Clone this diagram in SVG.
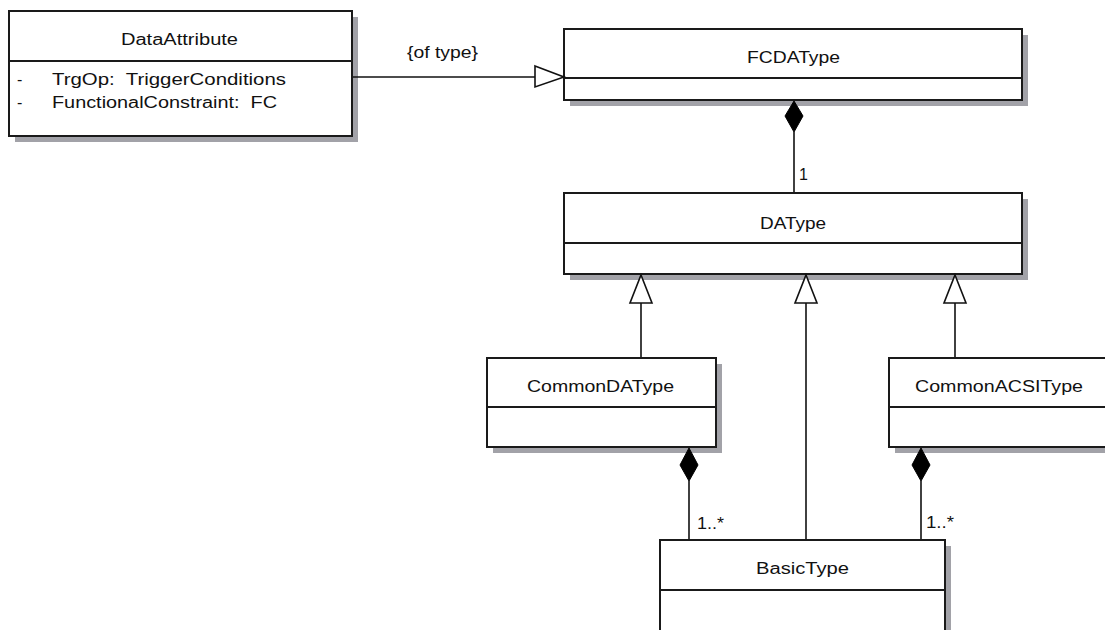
<svg xmlns="http://www.w3.org/2000/svg" width="1105" height="630" viewBox="0 0 1105 630">
<style>
.shadow{fill:#a2a2a8;}
.box{fill:#ffffff;stroke:#1a1a1a;stroke-width:2;}
.div{stroke:#1a1a1a;stroke-width:2;}
.t{font-family:"Liberation Sans",Arial,sans-serif;font-size:16px;fill:#111;}
.conn{stroke:#111;stroke-width:1.6;fill:none;}
.tri{fill:#ffffff;stroke:#111;stroke-width:1.6;}
.dia{fill:#000;stroke:#000;stroke-width:1;}
</style>
<rect width="1105" height="630" fill="#ffffff"/>

<g id="DataAttribute">
  <rect class="shadow" x="15" y="17" width="343" height="125"/>
  <rect class="box" x="9" y="11" width="343" height="125"/>
  <line class="div" x1="9" y1="61" x2="352" y2="61"/>
  <text class="t" x="121" y="45" textLength="117" lengthAdjust="spacingAndGlyphs">DataAttribute</text>
  <text class="t" x="17" y="85">-</text>
  <text class="t" x="52" y="85" textLength="234" lengthAdjust="spacingAndGlyphs" xml:space="preserve">TrgOp:  TriggerConditions</text>
  <text class="t" x="17" y="108">-</text>
  <text class="t" x="52" y="108" textLength="225" lengthAdjust="spacingAndGlyphs" xml:space="preserve">FunctionalConstraint:  FC</text>
</g>

<g id="FCDAType">
  <rect class="shadow" x="570" y="35" width="458" height="71"/>
  <rect class="box" x="564" y="29" width="458" height="71"/>
  <line class="div" x1="564" y1="78" x2="1022" y2="78"/>
  <text class="t" x="747" y="63" textLength="93" lengthAdjust="spacingAndGlyphs">FCDAType</text>
</g>

<g id="DAType">
  <rect class="shadow" x="570" y="199" width="458" height="81"/>
  <rect class="box" x="564" y="193" width="458" height="81"/>
  <line class="div" x1="564" y1="243" x2="1022" y2="243"/>
  <text class="t" x="760" y="229" textLength="66" lengthAdjust="spacingAndGlyphs">DAType</text>
</g>

<g id="CommonDAType">
  <rect class="shadow" x="493" y="364" width="229" height="89"/>
  <rect class="box" x="487" y="358" width="229" height="89"/>
  <line class="div" x1="487" y1="407" x2="716" y2="407"/>
  <text class="t" x="527" y="392" textLength="147" lengthAdjust="spacingAndGlyphs">CommonDAType</text>
</g>

<g id="CommonACSIType">
  <rect class="shadow" x="895" y="364" width="229" height="89"/>
  <rect class="box" x="889" y="358" width="229" height="89"/>
  <line class="div" x1="889" y1="407" x2="1118" y2="407"/>
  <text class="t" x="915" y="392" textLength="168" lengthAdjust="spacingAndGlyphs">CommonACSIType</text>
</g>

<g id="BasicType">
  <rect class="shadow" x="666" y="546" width="285" height="100"/>
  <rect class="box" x="660" y="540" width="285" height="100"/>
  <line class="div" x1="660" y1="590" x2="945" y2="590"/>
  <text class="t" x="756" y="574" textLength="93" lengthAdjust="spacingAndGlyphs">BasicType</text>
</g>

<g id="connectors">
  <line class="conn" x1="353" y1="77" x2="535" y2="77"/>
  <polygon class="tri" points="535,66 564,77 535,87"/>
  <text class="t" x="407" y="58" textLength="71" lengthAdjust="spacingAndGlyphs">{of type}</text>
  <line class="conn" x1="794" y1="132" x2="794" y2="192"/>
  <polygon class="dia" points="794,101 803,116 794,132 785,116"/>
  <text class="t" x="799" y="180">1</text>
  <line class="conn" x1="641" y1="303" x2="641" y2="357"/>
  <polygon class="tri" points="641,275 652,303 630,303"/>
  <line class="conn" x1="806" y1="303" x2="806" y2="539"/>
  <polygon class="tri" points="806,275 817,303 795,303"/>
  <line class="conn" x1="955" y1="303" x2="955" y2="357"/>
  <polygon class="tri" points="955,275 966,303 944,303"/>
  <line class="conn" x1="689" y1="481" x2="689" y2="539"/>
  <polygon class="dia" points="689,448 698,465 689,481 680,465"/>
  <text class="t" x="697" y="529" textLength="27" lengthAdjust="spacingAndGlyphs">1..*</text>
  <line class="conn" x1="921" y1="481" x2="921" y2="539"/>
  <polygon class="dia" points="921,448 930,465 921,481 912,465"/>
  <text class="t" x="926" y="528" textLength="28" lengthAdjust="spacingAndGlyphs">1..*</text>
</g>
</svg>
